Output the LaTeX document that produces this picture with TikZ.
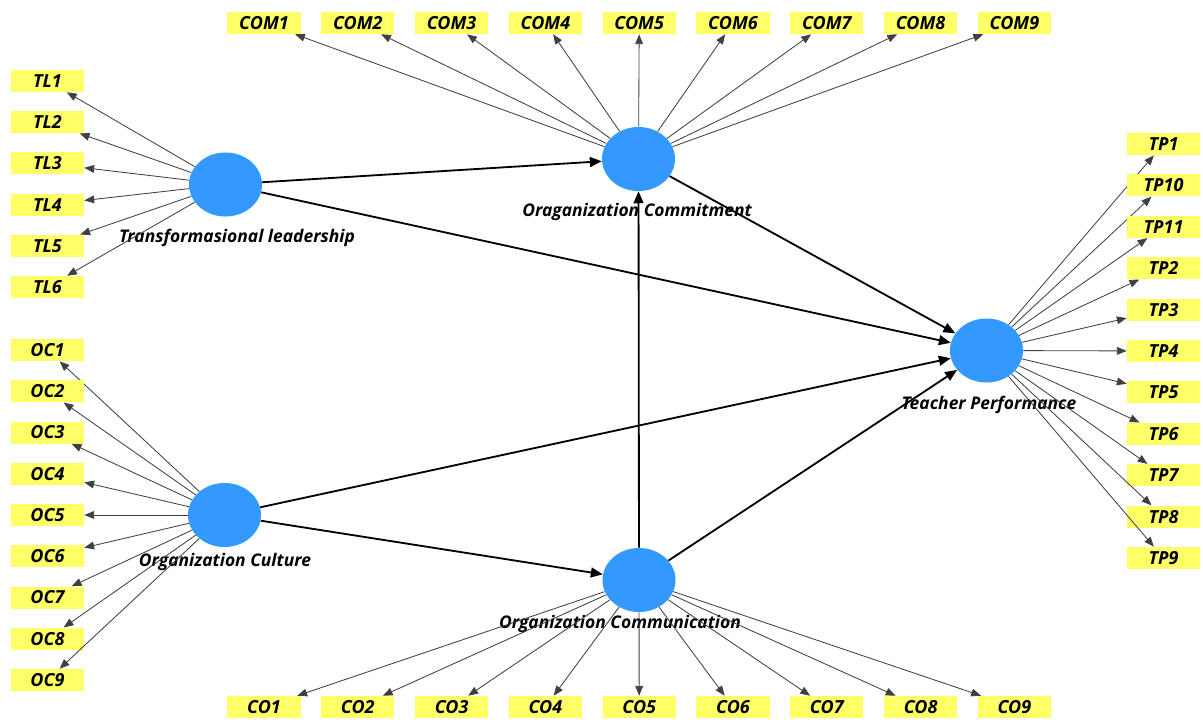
\documentclass[tikz,border=0pt]{standalone}
\usepackage{fontspec}
\setmainfont{Open Sans}
\usetikzlibrary{shapes, arrows, arrows.meta, positioning}

\definecolor{lvblue}{RGB}{51,153,255}
\definecolor{mvyellow}{RGB}{255,255,102}

\tikzset{
  latent/.style={ellipse, fill=lvblue, inner sep=0pt, minimum width=1.825cm, minimum height=1.6cm},
  item/.style={rectangle, fill=mvyellow, inner sep=0pt, minimum width=1.825cm, minimum height=0.55cm,
    font=\bfseries\itshape\fontsize{12.8}{14}\selectfont},
  lvname/.style={font=\bfseries\itshape\fontsize{12.4}{14}\selectfont},
  ind/.style={draw=black!75, line width=0.6pt, -{Triangle[length=7pt, width=5.5pt]}},
  path/.style={draw=black, line width=1.3pt, -{Triangle[length=8.5pt, width=7pt]}}
}

\begin{document}
\begin{tikzpicture}[x=0.025cm, y=-0.025cm]
    \useasboundingbox (0,0) rectangle (1203,719);

    % 潜变量
    \node[latent] (TL)  at (225.5,184.5) {};
    \node[latent] (COM) at (638.5,159) {};
    \node[latent] (TP)  at (986.5,350.5) {};
    \node[latent] (OC)  at (224.5,515) {};
    \node[latent] (CO)  at (639,580) {};

    \node[lvname] (TLname)  at (237,238) {Transformasional leadership};
    \node[lvname] (COMname) at (637,212) {Oraganization Commitment};
    \node[lvname] (TPname)  at (989,405) {Teacher Performance};
    \node[lvname] (OCname)  at (225,562) {Organization Culture};
    \node[lvname] (COname)  at (620,624) {Organization Communication};

    % 指标 TL
    \foreach \i in {1,...,6} {
        \node[item] (tl\i) at (47.5,{81+41.2*(\i-1)}) {TL\i};
        \draw[ind] (TL) -- (tl\i);
    }

    % 指标 OC
    \foreach \i in {1,...,9} {
        \node[item] (oc\i) at (47.5,{350+41.25*(\i-1)}) {OC\i};
        \draw[ind] (OC) -- (oc\i);
    }

    % 指标 COM
    \foreach \i in {1,...,9} {
        \node[item] (com\i) at ({264+93.8*(\i-1)},23) {COM\i};
        \draw[ind] (COM) -- (com\i);
    }

    % 指标 CO
    \foreach \i in {1,...,9} {
        \node[item] (co\i) at ({264+93.8*(\i-1)},707) {CO\i};
        \draw[ind] (CO) -- (co\i);
    }

    % 指标 TP
    \foreach \lab [count=\i from 0] in {1,10,11,2,3,4,5,6,7,8,9} {
        \node[item] (tp\lab) at (1163.5,{144+41.4*\i}) {TP\lab};
        \draw[ind] (TP) -- (tp\lab);
    }

    % 结构路径
    \draw[path] (TL) -- (COM);
    \draw[path] (TL) -- (TP);
    \draw[path] (COM) -- (TP);
    \draw[path] (OC) -- (TP);
    \draw[path] (OC) -- (CO);
    \draw[path] (CO) -- (COM);
    \draw[path] (CO) -- (TP);

\end{tikzpicture}
\end{document}
